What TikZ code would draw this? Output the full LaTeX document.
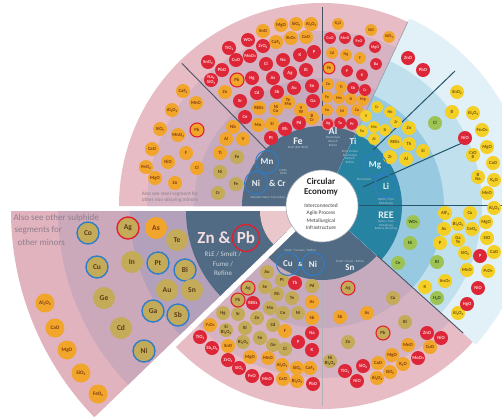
\documentclass[tikz,border=0pt]{standalone}
\usepackage{fontspec}
\setmainfont{Carlito}
\usetikzlibrary{positioning,calc}

\definecolor{slate}{HTML}{506B83}
\definecolor{tealdk}{HTML}{2683A2}
\definecolor{pinkA}{HTML}{C6AABD}
\definecolor{pinkB}{HTML}{D6B3C3}
\definecolor{pinkC}{HTML}{E7BCC4}
\definecolor{blueA}{HTML}{97CAE1}
\definecolor{blueB}{HTML}{C1E0EE}
\definecolor{blueC}{HTML}{E2F0F7}
\definecolor{wedgeB}{HTML}{B3A0BA}
\definecolor{wedgeC}{HTML}{CBA9BB}
\definecolor{wedgeD}{HTML}{E1B3BE}
\definecolor{apex}{HTML}{EAC7CB}
\definecolor{cred}{HTML}{DD2738}
\definecolor{corange}{HTML}{F1A52A}
\definecolor{cyellow}{HTML}{F4CF25}
\definecolor{ckhaki}{HTML}{C3AB59}
\definecolor{cgreen}{HTML}{9DC354}
\definecolor{redtxt}{HTML}{FBD9D9}
\definecolor{orangetxt}{HTML}{7E3A12}
\definecolor{yellowtxt}{HTML}{6E5410}
\definecolor{khakitxt}{HTML}{5B3B14}
\definecolor{greentxt}{HTML}{2E4A12}
\definecolor{ringred}{HTML}{E3202E}
\definecolor{ringblue}{HTML}{2F7CC8}
\definecolor{divider}{HTML}{4A5363}
\definecolor{tealline}{HTML}{24566E}
\definecolor{note}{HTML}{8E7E8C}
\definecolor{labwhite}{HTML}{EAF0F5}
\definecolor{tinytxt}{HTML}{B9C7D4}

% annulus sector: centre, start, end, inner r, outer r, colour
\newcommand\ringsector[6]{\fill[#6] ($(#1)+(#2:#4)$) arc[start angle=#2, end angle=#3, radius=#4]
  -- ($(#1)+(#3:#5)$) arc[start angle=#3, end angle=#2, radius=#5] -- cycle;}
% small subscript for formulas
\newcommand\sbs[1]{\raisebox{-0.4ex}{\scalebox{0.68}{#1}}}

\begin{document}
\begin{tikzpicture}[x=1pt, y=-1pt,
  el/.style={circle, inner sep=0pt, minimum size=14pt, align=center,
    font=\fontsize{4.7}{4.4}\selectfont\bfseries},
  sm/.style={minimum size=11.8pt, font=\fontsize{4.1}{3.8}\selectfont\bfseries},
  big/.style={minimum size=22pt, font=\fontsize{7.5}{7.5}\selectfont\bfseries},
  oxb/.style={minimum size=19pt, font=\fontsize{5.2}{5}\selectfont\bfseries},
  rd/.style={fill=cred, text=redtxt},
  og/.style={fill=corange, text=orangetxt},
  yl/.style={fill=cyellow, text=yellowtxt},
  kh/.style={fill=ckhaki, text=khakitxt},
  gn/.style={fill=cgreen, text=greentxt},
  rr/.style={draw=ringred, line width=1.1pt},
  rb/.style={draw=ringblue, line width=1.1pt},
  seclab/.style={font=\fontsize{10}{10}\selectfont\bfseries, text=labwhite, inner sep=1pt},
  ringlab/.style={circle, draw=ringblue, line width=1pt, minimum size=23pt, inner sep=0pt,
    font=\fontsize{9}{9}\selectfont\bfseries, text=labwhite},
  tiny/.style={font=\fontsize{3.2}{3.7}\selectfont, text=tinytxt, align=center, inner sep=0.5pt},
  divide/.style={draw=divider, line width=0.9pt},
  tdivide/.style={draw=tealline, line width=1pt}]
\useasboundingbox (0,0) rectangle (502,416);
\fill[white] (0,0) rectangle (502,416);
\coordinate (C) at (322,206);
\coordinate (P) at (308,211);

% main wheel, pink halves
\ringsector{C}{180}{295}{30}{203}{pinkC}
\ringsector{C}{180}{295}{30}{175}{pinkB}
\ringsector{C}{180}{295}{30}{128}{pinkA}
\ringsector{C}{180}{295}{30}{80}{slate}
\ringsector{C}{42}{136}{30}{203}{pinkC}
\ringsector{C}{42}{136}{30}{172}{pinkB}
\ringsector{C}{42}{136}{30}{122}{pinkA}
\ringsector{C}{42}{136}{30}{74}{slate}
% main wheel, blue part
\ringsector{C}{295}{402}{30}{207}{blueC}
\ringsector{C}{295}{402}{30}{160}{blueB}
\ringsector{C}{295}{402}{30}{122}{blueA}
\ringsector{C}{295}{402}{30}{80}{tealdk}

% exploded Zn & Pb segment
\ringsector{P}{136}{180}{30}{297}{wedgeD}
\ringsector{P}{136}{180}{30}{250}{wedgeC}
\ringsector{P}{136}{180}{30}{178}{wedgeB}
\ringsector{P}{136}{180}{30}{122}{slate}
\ringsector{P}{136}{180}{1}{48}{apex}

% dividers
\coordinate (d1a) at ($(C)+(225.5:80)$); \coordinate (d1b) at ($(C)+(225.5:200)$);
\coordinate (d2a) at ($(C)+(270:80)$);   \coordinate (d2b) at ($(C)+(270:199)$);
\coordinate (d3a) at ($(C)+(295:80)$);   \coordinate (d3b) at ($(C)+(295:203)$);
\coordinate (d4a) at ($(C)+(42:74)$);    \coordinate (d4b) at ($(C)+(42:190)$);
\coordinate (d5a) at ($(C)+(90:74)$);    \coordinate (d5b) at ($(C)+(90:200)$);
\coordinate (tA1) at (373,150); \coordinate (tA2) at (455,71);
\coordinate (tB1) at (363,187); \coordinate (tB2) at (462,143);
\coordinate (tC1) at (358,205); \coordinate (tC2) at (502,205);
\draw[divide] (d1a) -- (d1b);
\draw[divide] (d2a) -- (d2b);
\draw[draw=divider!60, line width=0.6pt] (d3a) -- (d3b);
\draw[divide] (d4a) -- (d4b);
\draw[draw=divider!45, line width=0.5pt] (d5a) -- (d5b);
\draw[tdivide] (tA1) -- (tA2);
\draw[tdivide] (tB1) -- (tB2);
\draw[tdivide] (tC1) -- (tC2);

% steel segment
\foreach \x/\y/\t [count=\i] in {183/91/CaF\sbs{2}, 196/103/MnO, 172/110/Al\sbs{2}O\sbs{3}, 160/129/SiO\sbs{2},
  178/135/MnO\sbs{2}, 152/149/CaO, 186/153/F, 168/162/NiO, 146/167/FeO\sbs{2}, 197/168/Cl, 155/178/MgO,
  175/183/Zn, 233/127/Nb, 226/139/Al, 243/139/V, 220/153/Ti}
  \node[el, og] (so\i) at (\x,\y) {\t};
\foreach \x/\y/\t [count=\i] in {237/157/Fe, 220/172/Ni, 236/184/Fe, 218/193/Cr}
  \node[el, kh] (sk\i) at (\x,\y) {\t};
\node[el, og, rr] (spb) at (197,130) {Pb};

% Fe segment
\foreach \x/\y/\t [count=\i] in {263/31/SnO, 281/25/MgO, 296/24/SiO\sbs{2}, 311/24/Al\sbs{2}O\sbs{3}, 276/42/CaF\sbs{2},
  291/38/B\sbs{2}O\sbs{3}, 306/37/CaO, 225/92/Zn, 259/108/REEs, 288/102/{Te\\Mo}, 276/109/{Ni\\Co},
  301/110/{V\\W}, 312/118/{B\\Cr}, 258/125/Mo, 272/124/Si}
  \node[el, og] (fo\i) at (\x,\y) {\t};
\foreach \x/\y/\t [count=\i] in {229/48/TiO\sbs{2}, 248/40/WO\sbs{3}, 263/46/ZrO\sbs{2}, 208/62/SnO\sbs{2}, 222/70/PbO,
  236/60/CuO, 250/56/MoO\sbs{3}, 211/80/{Na\sbs{2}\\SiO\sbs{3}}, 266/64/Cl, 283/60/Na, 300/55/K, 314/52/P,
  252/78/Hg, 273/78/As, 290/73/Ag, 306/70/Bi, 257/93/Cd, 277/92/Sb, 294/88/Au, 312/86/Sn,
  240/101/Sr, 245/117/Ce, 313/101/Ga, 285/129/Rh, 299/123/Pd, 271/138/Pt}
  \node[el, rd] (fr\i) at (\x,\y) {\t};
\node[el, og, rr] (fpb) at (237,80) {Pb};

% Al segment
\foreach \x/\y/\t [count=\i] in {338/24/K\sbs{2}O, 371/30/SiO, 389/37/WO\sbs{3}, 332/53/Cd, 346/55/Hg, 360/58/F,
  328/84/Zn, 341/87/Ti, 327/97/Fe, 339/98/Mn, 351/99/Si, 363/100/Mg, 327/110/Sn, 342/111/Ni, 357/110/Cu}
  \node[el, sm, og] (ao\i) at (\x,\y) {\t};
\foreach \x/\y/\t [count=\i] in {330/38/CuO, 345/38/MnO, 359/41/FeO, 375/47/MgO, 376/64/Ba, 347/71/P,
  362/75/K, 353/88/Sb, 365/90/Cr, 340/123/Ta, 352/124/Pt}
  \node[el, sm, rd] (ar\i) at (\x,\y) {\t};
\node[el, sm, og, rr] (apb) at (329,68) {Pb};
\node[el, sm, rd, rr, draw=ringred!55!white] (aag) at (328,124) {Ag};

% Ti, Mg, Li segments
\foreach \x/\y/\t [count=\i] in {408/58/ZnO, 423/70/PbO, 465/138/NiO}
  \node[el, rd] (tr\i) at (\x,\y) {\t};
\foreach \x/\y/\t [count=\i] in {457/92/SnO\sbs{2}, 452/112/B, 473/113/Al\sbs{2}O\sbs{3}, 482/130/Fe\sbs{2}O\sbs{3},
  487/147/MgO, 473/155/{CrO\\B}, 493/163/CaO, 478/177/{B\\Na}, 494/180/K\sbs{2}O, 487/193/MnO,
  409/128/Zn, 395/142/REEs, 409/144/Th, 423/151/Si, 390/157/Zr, 406/159/Al}
  \node[el, yl] (ty\i) at (\x,\y) {\t};
\foreach \x/\y/\t [count=\i] in {377/107/Cr, 390/112/Nb, 366/116/V, 374/127/Mo, 396/122/Zr,
  385/130/Si, 362/131/Sn, 374/139/Al}
  \node[el, sm, yl] (ts\i) at (\x,\y) {\t};
\node[el, gn] (tcl) at (435,123) {Cl};

% REE segment
\foreach \x/\y/\t [count=\i] in {413/222/WO\sbs{3}, 410/243/Ni, 398/263/Ce, 437/262/Bi, 437/298/H\sbs{2}O}
  \node[el, gn] (rg\i) at (\x,\y) {\t};
\foreach \x/\y/\t [count=\i] in {445/213/AlF\sbs{3}, 470/213/Cu, 458/224/Bi\sbs{2}O\sbs{3}, 486/222/MgO,
  494/208/Al\sbs{2}O\sbs{3}, 444/229/As, 440/243/P, 458/240/{Ga\\Te}, 472/229/CeO\sbs{2}, 487/238/SiO,
  465/253/SiO\sbs{2}, 494/252/CaO, 467/270/MnO, 488/271/P\sbs{2}O\sbs{5}, 425/287/K, 445/281/In\sbs{2}O\sbs{3},
  458/313/Al\sbs{2}O\sbs{3}}
  \node[el, yl] (ry\i) at (\x,\y) {\t};
\foreach \x/\y/\t [count=\i] in {480/256/P, 478/288/NiO, 467/304/HgO}
  \node[el, rd] (rr\i) at (\x,\y) {\t};

% Sn segment
\foreach \x/\y/\t [count=\i] in {393/298/Cu, 405/322/Bi, 348/342/Zn, 330/361/{Ni\\Bi\sbs{2}O\sbs{3}}}
  \node[el, kh] (nk\i) at (\x,\y) {\t};
\node[el, kh, rr] (nag) at (348,288) {Ag};
\node[el, kh, rr] (npb) at (383,333) {Pb};
\foreach \x/\y/\t [count=\i] in {340/317/Sb, 367/313/As, 408/345/MnO, 430/347/CuO, 392/355/MgO,
  403/364/K\sbs{2}O, 378/363/CaO, 390/372/SiO\sbs{2}, 377/378/Al\sbs{2}O\sbs{3}}
  \node[el, og] (no\i) at (\x,\y) {\t};
\foreach \x/\y/\t [count=\i] in {427/333/ZnO, 441/338/NiO, 418/358/MoO\sbs{3}, 363/366/SiO\sbs{2},
  345/371/TiO\sbs{2}, 357/381/NiO}
  \node[el, rd] (nr\i) at (\x,\y) {\t};

% Cu & Ni segment
\foreach \x/\y/\t [count=\i] in {267/272/Au, 282/280/Pt, 312/286/Pd, 265/287/Se, 277/294/Rh, 292/298/Te,
  270/308/Mo, 223/313/Hg, 238/314/Sr, 257/318/Zn, 283/313/Co, 298/313/Ni, 273/325/Cd,
  226/330/{Si\\Bi\sbs{2}O\sbs{3}}, 245/328/Bi, 243/342/Bi\sbs{2}O\sbs{3}, 260/338/Sn, 273/345/Ge, 285/349/Cl}
  \node[el, kh] (ck\i) at (\x,\y) {\t};
\node[el, kh, rr] (cag) at (248,288) {Ag};
\node[el, kh, rr] (cpb) at (238,300) {Pb};
\foreach \x/\y/\t [count=\i] in {312/302/As, 312/318/Sb, 210/325/Y\sbs{2}O\sbs{3}, 285/331/F, 228/346/SnO,
  250/357/MgO, 268/358/MnO, 282/365/Al\sbs{2}O\sbs{3}, 297/368/SiO\sbs{2}, 310/368/CaF\sbs{2}, 283/379/CaO,
  297/381/Bi\sbs{2}O\sbs{3}}
  \node[el, og] (co\i) at (\x,\y) {\t};
\foreach \x/\y/\t [count=\i] in {295/283/Th, 253/303/REEs, 312/333/Na, 200/337/TiO\sbs{2}, 298/342/P,
  212/348/Sb\sbs{2}O\sbs{3}, 312/350/K, 228/360/ZrO\sbs{2}, 239/368/SiO\sbs{2}, 252/376/FeO, 267/379/MnO, 313/384/PbO}
  \node[el, rd] (cr\i) at (\x,\y) {\t};

% Zn & Pb segment
\foreach \x/\y/\t [count=\i] in {88/233/Co, 97/267/Cu, 158/263/Pt, 185/270/Bi, 153/311/Ga, 178/315/Sb, 144/351/Ni}
  \node[el, big, kh, rb, line width=1.4pt] (zb\i) at (\x,\y) {\t};
\foreach \x/\y/\t [count=\i] in {177/240/Te, 132/262/In, 104/298/Ge, 167/290/Au, 192/290/Sn, 121/328/Cd}
  \node[el, big, kh] (zk\i) at (\x,\y) {\t};
\node[el, big, kh, rr, line width=1.4pt] (zag) at (128,228) {Ag};
\node[el, big, og] (zas) at (156,228) {As};
\foreach \x/\y/\t [count=\i] in {45/303/Al\sbs{2}O\sbs{3}, 55/328/CaO, 67/350/MgO, 81/373/SiO\sbs{2}, 98/394/FeO\sbs{x}}
  \node[el, oxb, og] (zo\i) at (\x,\y) {\t};
\node[font=\fontsize{17}{17}\selectfont\bfseries, text=apex!60!white, inner sep=0pt] (zn) at (214,238) {Zn \&};
\node[ringlab, draw=ringred, line width=1.4pt, minimum size=27pt, font=\fontsize{17}{17}\selectfont\bfseries,
  text=apex!60!white, right=1pt of zn] (pb) {Pb};
\node[font=\fontsize{7}{9.5}\selectfont, text=labwhite!80!slate, align=center] (zntx) at (223,264)
  {RLE / Smelt /\\Fume /\\Refine};
\node[font=\fontsize{9}{12.5}\selectfont, text=note, align=left, anchor=north west] (znote) at (10,211)
  {Also see other sulphide\\[-0.5pt]\hspace{1pt}segments for\\\hspace{4pt}other minors};
\node[font=\fontsize{5.3}{6.3}\selectfont, text=note, align=left] (snote) at (170,197)
  {Also see steel segment for\\other non-alloying minors};

% segment names
\node[seclab] (fe) at (298,141) {Fe};
\node[tiny, below=0pt of fe] (fetx) {Steel (EAF/BOF)};
\node[ringlab] (mn) at (267,162) {Mn};
\node[tiny, anchor=west] (mntx) at (279,172) {FeMn\\SiMn};
\node[ringlab] (nicr) at (256,183) {Ni};
\node[seclab, font=\fontsize{9}{9}\selectfont\bfseries, right=0pt of nicr] (cr) {\& Cr};
\node[tiny] (nicrtx) at (268,198) {Stainless Steel / Ferroalloys};
\node[seclab] (al) at (333,131) {Al};
\node[tiny, below=0pt of al] (altx) {Electrolysis\\Remelt\\Refine};
\node[seclab, font=\fontsize{9}{9}\selectfont\bfseries] (ti) at (353,141) {Ti};
\node[tiny] (titx) at (350,157) {Kroll, Hunter\\Electrolysis\\Remelt\\Refine};
\node[ringlab] (mg) at (375,165) {Mg};
\node[tiny] (mgtx) at (364,180) {Electrolysis};
\node[ringlab] (li) at (386,186) {Li};
\node[tiny, below=0pt of li] (litx) {Hydro / Pyro\\Metallurgy};
\node[seclab] (ree) at (386,215) {REE};
\node[tiny, below=0pt of ree] (reetx) {Hydro / Pyro\\Metallurgy\\Battery Recycling};
\node[seclab, font=\fontsize{9}{9}\selectfont\bfseries] (sn) at (350,268) {Sn};
\node[tiny, above=0pt of sn] (sntx) {Smelt / Fume / Refine};
\node[ringlab] (cuA) at (288,264) {Cu};
\node[ringlab] (niA) at (313,264) {Ni};
\node[seclab, font=\fontsize{6}{6}\selectfont\bfseries] (amp) at (300.5,264) {\&};
\node[tiny] (cunitx) at (300,250) {Smelt / Convert / Refine};

% centre
\node[circle, fill=white, draw=divider!50, line width=0.6pt, minimum size=72pt] (core) at (C) {};
\node[font=\fontsize{9}{10}\selectfont\bfseries, text=black!85, align=center] (title) at (321,187) {Circular\\Economy};
\node[font=\fontsize{5.4}{7.6}\selectfont, text=black!75, align=center, below=0.5pt of title] (sub)
  {Interconnected\\Agile Process\\Metallurgical\\Infrastructure};
\end{tikzpicture}
\end{document}
